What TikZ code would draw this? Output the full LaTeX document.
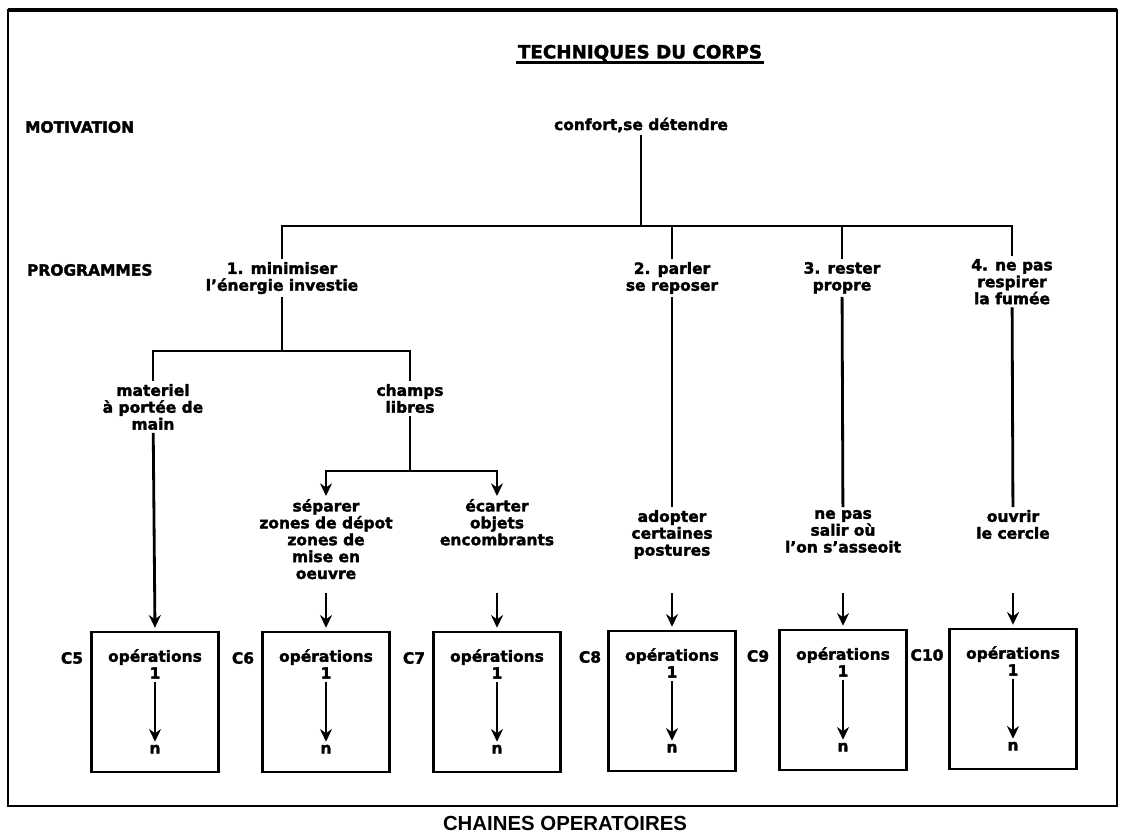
\documentclass[tikz,border=0pt]{standalone}
\usepackage{fontspec}
\setmainfont{DejaVu Sans}[BoldFeatures={FakeBold=2}]
\newfontfamily\legendfont{Liberation Sans}
\usetikzlibrary{
    arrows.meta,
    positioning
}
\tikzstyle{prog} = [
    align=center,
    inner sep=2pt,
    font=\fontsize{11}{12}\selectfont\bfseries
]
\tikzstyle{chaine} = [
    rectangle,
    draw,
    line width=2pt,
    minimum width=3.175cm,
    minimum height=3.5cm
]
\tikzstyle{trait} = [
    line width=2pt
]
\tikzstyle{arrow} = [
    >={Stealth[length=9pt, width=8.5pt]},
    ->,
    line width=2pt
]

\begin{document}
\begin{tikzpicture}[x=0.025cm, y=-0.025cm]
        \useasboundingbox (0,0) rectangle (1122,835);

        % Cadre
        \draw[trait] (8,10) rectangle (1117,806);
        \draw[line width=2.8pt] (8,10) -- (1117,10);

        % Titre
        \node[prog, font=\fontsize{13}{15}\selectfont\bfseries, inner sep=1pt] (titre) at (640,53) {TECHNIQUES DU CORPS};
        \draw[line width=2.4pt] (titre.south west) -- (titre.south east);

        % Niveaux
        \node[prog, anchor=west] (motiv) at (22,127) {MOTIVATION};
        \node[prog, anchor=west] (programmes) at (24,270) {PROGRAMMES};

        % Motivation et programmes
        \node[prog] (confort) at (641,125) {confort,se détendre};
        \node[prog, anchor=north] (p1) at (282,259) {1. minimiser\\l'énergie investie};
        \node[prog, anchor=north] (p2) at (672,259) {2. parler\\se reposer};
        \node[prog, anchor=north] (p3) at (842,259) {3. rester\\propre};
        \node[prog, anchor=north] (p4) at (1012,256) {4. ne pas\\respirer\\la fumée};

        \coordinate (bus) at (641,226);
        \draw[trait] (confort) -- (bus);
        \draw[trait] (p1.north) |- (bus) -| (p4.north);
        \draw[trait] (p2.north) -- (p2.north |- bus);
        \draw[trait] (p3.north) -- (p3.north |- bus);

        % Sous-programmes
        \node[prog, anchor=north] (mat) at (153,381) {materiel\\à portée de\\main};
        \node[prog, anchor=north] (champ) at (410,381) {champs\\libres};

        \coordinate (bus1) at (282,351);
        \draw[trait] (p1) -- (bus1);
        \draw[trait] (mat.north) |- (bus1) -| (champ.north);

        \node[prog, anchor=north] (sep) at (326,496) {séparer\\zones de dépot\\zones de\\mise en\\oeuvre};
        \node[prog, anchor=north] (ecart) at (497,496) {écarter\\objets\\encombrants};
        \node[prog, anchor=north] (adopt) at (672,507) {adopter\\certaines\\postures};
        \node[prog, anchor=north] (salir) at (843,507) {ne pas\\salir où\\l'on s'asseoit};
        \node[prog, anchor=north] (ouvrir) at (1013,507) {ouvrir\\le cercle};

        \coordinate (bus2) at (410,471);
        \draw[trait] (champ) -- (bus2);
        \draw[arrow] (bus2) -| (sep.north);
        \draw[arrow] (bus2) -| (ecart.north);
        \draw[trait] (p2) -- (adopt);
        \draw[trait] (p3) -- (salir);
        \draw[trait] (p4) -- (ouvrir);

        % Chaines operatoires
        \node[chaine] (c5) at (155,702) {};
        \node[chaine] (c6) at (326,702) {};
        \node[chaine] (c7) at (497,702) {};
        \node[chaine] (c8) at (672,701) {};
        \node[chaine] (c9) at (843,700) {};
        \node[chaine] (c10) at (1013,699) {};

        \node[prog] (l5) at (72,658) {C5};
        \node[prog] (l6) at (243,658) {C6};
        \node[prog] (l7) at (414,658) {C7};
        \node[prog] (l8) at (590,657) {C8};
        \node[prog] (l9) at (758,656) {C9};
        \node[prog] (l10) at (927,655) {C10};

        \coordinate (a6) at (326,593);
        \coordinate (a7) at (497,593);
        \coordinate (a8) at (672,593);
        \coordinate (a9) at (843,593);
        \coordinate (a10) at (1013,593);
        \draw[arrow, shorten >=2pt] (mat) -- (c5.north);
        \draw[arrow, shorten >=2pt] (a6) -- (c6.north);
        \draw[arrow, shorten >=2pt] (a7) -- (c7.north);
        \draw[arrow, shorten >=2pt] (a8) -- (c8.north);
        \draw[arrow, shorten >=2pt] (a9) -- (c9.north);
        \draw[arrow, shorten >=2pt] (a10) -- (c10.north);

        % Operations 1 -> n
        \node[prog] (o5) at (155,664) {opérations\\1};
        \node[prog, below=1.5cm of o5] (n5) {n};
        \draw[arrow] (o5) -- (n5);
        \node[prog] (o6) at (326,664) {opérations\\1};
        \node[prog, below=1.5cm of o6] (n6) {n};
        \draw[arrow] (o6) -- (n6);
        \node[prog] (o7) at (497,664) {opérations\\1};
        \node[prog, below=1.5cm of o7] (n7) {n};
        \draw[arrow] (o7) -- (n7);
        \node[prog] (o8) at (672,663) {opérations\\1};
        \node[prog, below=1.5cm of o8] (n8) {n};
        \draw[arrow] (o8) -- (n8);
        \node[prog] (o9) at (843,662) {opérations\\1};
        \node[prog, below=1.5cm of o9] (n9) {n};
        \draw[arrow] (o9) -- (n9);
        \node[prog] (o10) at (1013,661) {opérations\\1};
        \node[prog, below=1.5cm of o10] (n10) {n};
        \draw[arrow] (o10) -- (n10);

        % Legende
        \node[font=\legendfont\bfseries\fontsize{14.5}{16}\selectfont] (legende) at (565,823) {CHAINES OPERATOIRES};
    \end{tikzpicture}
\end{document}
